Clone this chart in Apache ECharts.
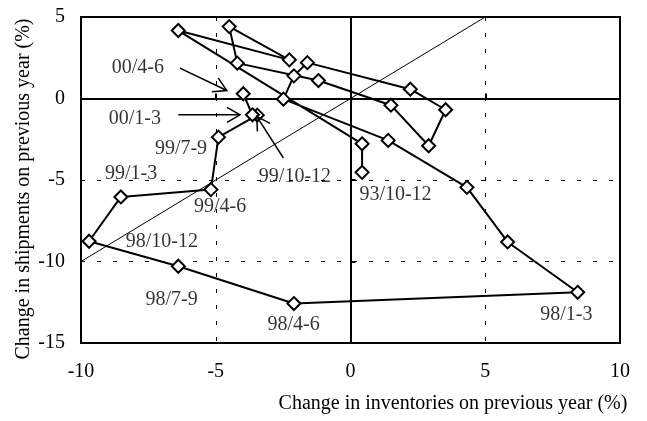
<!DOCTYPE html>
<html>
<head>
<meta charset="utf-8">
<script src="https://cdn.jsdelivr.net/npm/echarts@6/dist/echarts.min.js"></script>
<style>
html,body{margin:0;padding:0;background:#fff;}
#chart{width:647px;height:421px;}
</style>
</head>
<body>
<div id="chart"></div>
<script>
// Quarters (in order) with inventories change (x) and shipments change (y), %
var quarters = ['93/10-12','94/1-3','94/4-6','94/7-9','94/10-12','95/1-3','95/4-6','95/7-9','95/10-12',
  '96/1-3','96/4-6','96/7-9','96/10-12','97/1-3','97/4-6','97/7-9','97/10-12',
  '98/1-3','98/4-6','98/7-9','98/10-12','99/1-3','99/4-6','99/7-9','99/10-12','00/1-3','00/4-6'];
var inventories = [0.43, 0.43, -6.39, -2.27, -4.50, -4.20, -1.19, 1.50, 2.90,
  3.53, 2.22, -1.60, -2.10, -2.49, 1.40, 4.32, 5.83,
  8.43, -2.10, -6.39, -9.70, -8.52, -5.18, -4.90, -3.46, -3.64, -3.98];
var shipments = [-4.53, -2.78, 4.17, 2.37, 4.41, 2.17, 1.10, -0.41, -2.90,
  -0.69, 0.57, 2.20, 1.39, -0.04, -2.57, -5.45, -8.80,
  -11.89, -12.58, -10.29, -8.76, -6.04, -5.59, -2.37, -1.02, -1.00, 0.29];

// 45-degree reference line
var refLineX = [-10, 5];
var refLineY = [-10, 5];

// Annotation labels (text, x, y in data units)
var labelTexts = ['00/4-6','00/1-3','99/7-9','99/1-3','99/10-12','99/4-6','93/10-12','98/10-12','98/7-9','98/4-6','98/1-3'];
var labelX = [-7.89, -8.00, -6.29, -8.14, -2.06, -4.84, 1.67, -7.00, -6.64, -2.11, 8.01];
var labelY = [1.88, -1.25, -3.08, -4.61, -4.80, -6.65, -5.93, -8.81, -12.37, -13.90, -13.28];

// Arrows: from (x1,y1) to tip (x2,y2), data units
var arrowX1 = [-6.33, -6.39, -2.49];
var arrowY1 = [1.86, -1.00, -3.65];
var arrowX2 = [-4.59, -4.10, -3.48];
var arrowY2 = [0.49, -1.00, -1.10];

// Axis ticks
var xMin = -10, xMax = 10, xStep = 5;
var yMin = -15, yMax = 5, yStep = 5;

var FONT = "'Liberation Serif', 'Times New Roman', serif";

var pathData = inventories.map(function (v, i) { return { name: quarters[i], value: [v, shipments[i]] }; });
var refData = refLineX.map(function (v, i) { return [v, refLineY[i]]; });
var labelData = labelTexts.map(function (t, i) { return { name: t, value: [labelX[i], labelY[i]] }; });
var arrowData = arrowX1.map(function (v, i) { return [v, arrowY1[i], arrowX2[i], arrowY2[i]]; });

var chart = echarts.init(document.getElementById('chart'), null, { renderer: 'canvas' });

var option = {
  animation: false,
  backgroundColor: '#fff',
  grid: { left: 81, top: 17, width: 539, height: 326, show: true, borderColor: '#000', borderWidth: 2, backgroundColor: 'transparent' },
  xAxis: [
    {
      type: 'value', position: 'bottom', min: xMin, max: xMax, interval: xStep,
      axisLine: { show: false, onZero: false },
      axisTick: { show: false },
      axisLabel: { color: '#000', fontFamily: FONT, fontSize: 20, margin: 19 },
      splitLine: { show: true, lineStyle: { color: '#000', width: 1, type: [4, 12] } }
    },
    {
      type: 'value', position: 'bottom', min: xMin, max: xMax, interval: xStep,
      axisLine: { show: true, onZero: true, onZeroAxisIndex: 0, lineStyle: { color: '#000', width: 2 } },
      axisTick: { show: true, inside: true, length: 5, lineStyle: { color: '#000', width: 2 } },
      axisLabel: { show: false },
      splitLine: { show: false }
    }
  ],
  yAxis: [
    {
      type: 'value', position: 'left', min: yMin, max: yMax, interval: yStep,
      axisLine: { show: false, onZero: false },
      axisTick: { show: false },
      axisLabel: { color: '#000', fontFamily: FONT, fontSize: 20, margin: 16 },
      splitLine: { show: true, lineStyle: { color: '#000', width: 1, type: [4, 12] } }
    },
    {
      type: 'value', position: 'left', min: yMin, max: yMax, interval: yStep,
      axisLine: { show: true, onZero: true, onZeroAxisIndex: 0, lineStyle: { color: '#000', width: 2 } },
      axisTick: { show: true, inside: true, length: 5, lineStyle: { color: '#000', width: 2 } },
      axisLabel: { show: false },
      splitLine: { show: false }
    }
  ],
  graphic: [
    { type: 'text', x: 453, y: 404, style: { text: 'Change in inventories on previous year (%)', font: '20px ' + FONT, fill: '#000', textAlign: 'center', textVerticalAlign: 'middle' } },
    { type: 'text', x: 24, y: 189, rotation: Math.PI / 2, style: { text: 'Change in shipments on previous year (%)', font: '20px ' + FONT, fill: '#000', textAlign: 'center', textVerticalAlign: 'middle' } }
  ],
  series: [
    {
      type: 'line', xAxisIndex: 0, yAxisIndex: 0, data: refData, showSymbol: false, symbol: 'none',
      lineStyle: { color: '#000', width: 1 }, z: 2, silent: true
    },
    {
      type: 'line', xAxisIndex: 0, yAxisIndex: 0, data: pathData,
      symbol: 'diamond', symbolSize: 13, showAllSymbol: true,
      lineStyle: { color: '#000', width: 2 },
      itemStyle: { color: '#fff', borderColor: '#000', borderWidth: 2 },
      z: 3, silent: true
    },
    {
      type: 'scatter', xAxisIndex: 0, yAxisIndex: 0, data: labelData,
      symbol: 'rect', symbolSize: 1, itemStyle: { color: 'rgba(0,0,0,0)' },
      label: { show: true, position: 'inside', formatter: '{b}', color: '#000', fontFamily: FONT, fontSize: 20 },
      z: 4, silent: true
    },
    {
      type: 'custom', xAxisIndex: 0, yAxisIndex: 0, data: arrowData,
      encode: { x: [0, 2], y: [1, 3] },
      renderItem: function (params, api) {
        var p1 = api.coord([api.value(0), api.value(1)]);
        var p2 = api.coord([api.value(2), api.value(3)]);
        var ang = Math.atan2(p2[1] - p1[1], p2[0] - p1[0]);
        var L = 15, a = Math.PI / 6;
        var b1 = [p2[0] - L * Math.cos(ang - a), p2[1] - L * Math.sin(ang - a)];
        var b2 = [p2[0] - L * Math.cos(ang + a), p2[1] - L * Math.sin(ang + a)];
        return {
          type: 'group',
          children: [
            { type: 'line', shape: { x1: p1[0], y1: p1[1], x2: p2[0], y2: p2[1] }, style: { stroke: '#000', lineWidth: 1.5 } },
            { type: 'polyline', shape: { points: [b1, p2, b2] }, style: { stroke: '#000', fill: null, lineWidth: 1.5 } }
          ]
        };
      },
      z: 4, silent: true
    }
  ]
};
chart.setOption(option);
</script>
</body>
</html>
